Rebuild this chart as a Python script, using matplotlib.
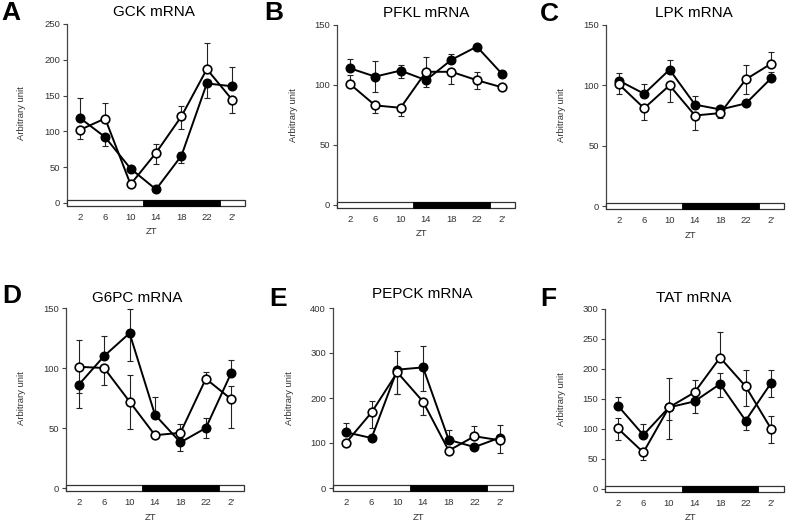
import matplotlib
matplotlib.use("Agg")
import matplotlib.pyplot as plt
from matplotlib.patches import Rectangle
from matplotlib.transforms import blended_transform_factory

plt.rcParams['font.family'] = ['Liberation Sans', 'DejaVu Sans']

# ---- data ----
zt = [2, 6, 10, 14, 18, 22, 26]
zt_labels = ['2', '6', '10', '14', '18', '22', "2'"]

gck_black = [119, 92, 48, 19, 66, 167, 163]
gck_black_lo = [0, 12, 0, 0, 10, 20, 0]
gck_black_hi = [27, 0, 0, 0, 5, 0, 27]
gck_white = [102, 118, 26, 70, 121, 187, 144]
gck_white_lo = [12, 0, 0, 16, 17, 0, 19]
gck_white_hi = [0, 22, 0, 13, 14, 37, 0]

pfkl_black = [114, 107, 112, 104, 121, 132, 109]
pfkl_black_lo = [0, 13, 6, 6, 0, 0, 0]
pfkl_black_hi = [8, 13, 5, 0, 5, 0, 0]
pfkl_white = [101, 83, 81, 111, 111, 104, 98]
pfkl_white_lo = [0, 6, 7, 0, 10, 7, 0]
pfkl_white_hi = [7, 0, 0, 12, 0, 7, 0]

lpk_black = [104, 93, 113, 84, 80, 85, 106]
lpk_black_lo = [0, 0, 0, 0, 0, 0, 0]
lpk_black_hi = [6, 8, 8, 7, 3, 0, 5]
lpk_white = [101, 81, 100, 75, 77, 105, 118]
lpk_white_lo = [8, 10, 14, 12, 4, 12, 0]
lpk_white_hi = [0, 0, 0, 0, 0, 12, 10]

g6pc_black = [86, 110, 129, 61, 38, 50, 96]
g6pc_black_lo = [19, 0, 23, 0, 7, 8, 0]
g6pc_black_hi = [0, 17, 20, 15, 0, 8, 11]
g6pc_white = [101, 100, 72, 44, 46, 91, 74]
g6pc_white_lo = [22, 14, 23, 0, 0, 0, 24]
g6pc_white_hi = [22, 0, 22, 0, 7, 6, 11]

pepck_black = [124, 111, 263, 268, 107, 91, 112]
pepck_black_lo = [0, 0, 55, 52, 0, 0, 0]
pepck_black_hi = [20, 0, 42, 47, 21, 0, 28]
pepck_white = [100, 168, 257, 192, 83, 115, 106]
pepck_white_lo = [0, 34, 48, 30, 0, 0, 28]
pepck_white_hi = [0, 26, 0, 0, 0, 22, 0]

tat_black = [139, 90, 136, 146, 175, 114, 177]
tat_black_lo = [0, 0, 21, 20, 22, 15, 24]
tat_black_hi = [14, 18, 0, 0, 19, 0, 21]
tat_white = [101, 61, 136, 161, 219, 171, 100]
tat_white_lo = [20, 12, 52, 0, 0, 32, 24]
tat_white_hi = [18, 0, 49, 20, 42, 28, 22]

W, H = 786, 522
fig = plt.figure(figsize=(W / 100, H / 100), dpi=100)

PAD = 2.5  # px of axes below y=0
SMALL = 6.8


def px(x, y):
    return x / W, 1 - y / H


def panel(letter, title, left, right, top, zero, ymax, ystep,
          black, black_lo, black_hi, white, white_lo, white_hi,
          letter_xy, title_xy, ylab_x):
    hpx = zero + PAD - top
    ax = fig.add_axes([left / W, (H - zero - PAD) / H, (right - left) / W, hpx / H])
    ax.set_xlim(0, 28)
    ax.set_ylim(-PAD / (zero - top) * ymax, ymax)

    # error bars (one sided)
    for y, lo, hi in [(black, black_lo, black_hi), (white, white_lo, white_hi)]:
        ax.errorbar(zt, y, yerr=[lo, hi], fmt='none', ecolor='#222222',
                    elinewidth=0.8, capsize=2.2, capthick=0.8, zorder=2)
    ax.plot(zt, black, '-', color='black', lw=1.4, zorder=3)
    ax.plot(zt, white, '-', color='black', lw=1.4, zorder=3)
    ax.plot(zt, black, 'o', ms=6.2, mfc='black', mec='black', mew=1.0, zorder=4)
    ax.plot(zt, white, 'o', ms=6.2, mfc='white', mec='black', mew=1.2, zorder=5)

    # light / dark bar
    tr = blended_transform_factory(ax.transData, ax.transAxes)
    fh = 5.5 / hpx
    ax.add_patch(Rectangle((0, 0), 28, fh, transform=tr, facecolor='white',
                           edgecolor='#333333', lw=0.9, zorder=6, clip_on=False))
    ax.add_patch(Rectangle((12, 0), 12, fh, transform=tr, facecolor='black',
                           edgecolor='black', lw=0.6, zorder=7, clip_on=False))

    for s in ['top', 'right', 'bottom']:
        ax.spines[s].set_visible(False)
    ax.spines['left'].set_color('#444444')
    ax.spines['left'].set_linewidth(0.9)

    ticks = list(range(0, ymax + 1, ystep))
    ax.set_yticks(ticks)
    ax.set_yticklabels([str(t) for t in ticks])
    ax.tick_params(axis='y', direction='out', length=3, width=0.8, color='#444444',
                   labelsize=SMALL, labelcolor='#333333', pad=2)
    ax.set_xticks(zt)
    ax.set_xticklabels(zt_labels)
    ax.tick_params(axis='x', length=0, labelsize=SMALL, labelcolor='#333333', pad=5.5)

    fig.text(*px(ylab_x, (top + zero) / 2), 'Arbitrary unit', rotation=90,
             ha='center', va='center', fontsize=SMALL, color='#333333')
    fig.text(*px((left + right) / 2 - 4, zero + 29), 'ZT', ha='center', va='center',
             fontsize=SMALL, color='#333333')
    fig.text(*px(*letter_xy), letter, ha='left', va='center', fontsize=19,
             fontweight='bold')
    fig.text(*px(*title_xy), title, ha='center', va='center', fontsize=11)
    return ax


panel('A', 'GCK mRNA', 67, 245, 24, 203, 250, 50,
      gck_black, gck_black_lo, gck_black_hi, gck_white, gck_white_lo, gck_white_hi,
      (1, 13), (154, 12), 22)
panel('B', 'PFKL mRNA', 337, 515, 25, 205, 150, 50,
      pfkl_black, pfkl_black_lo, pfkl_black_hi, pfkl_white, pfkl_white_lo, pfkl_white_hi,
      (264, 13), (426, 13), 294)
panel('C', 'LPK mRNA', 606, 784, 25, 206, 150, 50,
      lpk_black, lpk_black_lo, lpk_black_hi, lpk_white, lpk_white_lo, lpk_white_hi,
      (540, 14), (694, 13), 562)
panel('D', 'G6PC mRNA', 66, 244, 308, 488, 150, 50,
      g6pc_black, g6pc_black_lo, g6pc_black_hi, g6pc_white, g6pc_white_lo, g6pc_white_hi,
      (2, 296), (137, 298), 22)
panel('E', 'PEPCK mRNA', 333, 513, 308, 488, 400, 100,
      pepck_black, pepck_black_lo, pepck_black_hi, pepck_white, pepck_white_lo, pepck_white_hi,
      (269, 299), (422, 294), 289)
panel('F', 'TAT mRNA', 605, 784, 309, 489, 300, 50,
      tat_black, tat_black_lo, tat_black_hi, tat_white, tat_white_lo, tat_white_hi,
      (540, 299), (694, 298), 562)

fig.savefig('out.png', dpi=100)
